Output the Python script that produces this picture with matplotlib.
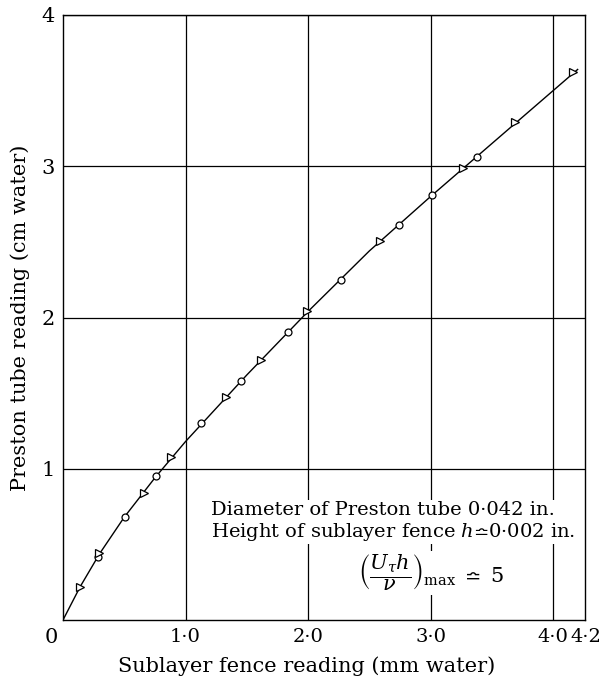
import matplotlib.pyplot as plt
from matplotlib.transforms import ScaledTranslation

plt.rcParams['font.family'] = ['DejaVu Serif', 'STIXGeneral']
plt.rcParams['mathtext.fontset'] = 'dejavuserif'

# data
circ_x = [0.283, 0.503, 0.762, 1.127, 1.45, 1.834, 2.267, 2.746, 3.015, 3.377]
circ_y = [0.415, 0.684, 0.949, 1.30, 1.578, 1.903, 2.245, 2.61, 2.81, 3.06]
tri_x = [0.139, 0.294, 0.661, 0.884, 1.328, 1.614, 1.99, 2.588, 3.268, 3.69, 4.166]
tri_y = [0.22, 0.44, 0.839, 1.077, 1.472, 1.72, 2.04, 2.505, 2.99, 3.29, 3.62]
curve_x = [0, 0.14, 0.3, 0.5, 0.75, 1.0, 1.5, 2.0, 2.5, 3.0, 3.5, 4.0, 4.2]
curve_y = [0, 0.22, 0.44, 0.68, 0.94, 1.18, 1.62, 2.04, 2.44, 2.80, 3.15, 3.50, 3.64]

xticks = [1, 2, 3, 4]
xlabels = ['1·0', '2·0', '3·0', '4·0']
yticks = [1, 2, 3, 4]
ylabels = ['1', '2', '3', '4']

fig = plt.figure(figsize=(6.03, 6.8), dpi=100)
ax = fig.add_axes([63/603, 1 - 620/680, 522/603, 605/680])

ax.plot(curve_x, curve_y, color='black', lw=1.0, zorder=3)
ax.plot(circ_x, circ_y, 'o', ms=5, mfc='white', mec='black', mew=0.9, zorder=4)
ax.plot(tri_x, tri_y, '>', ms=6, mfc='white', mec='black', mew=0.9, zorder=4)

ax.set_xlim(0, 4.26)
ax.set_ylim(0, 4)
ax.set_xticks(xticks)
ax.set_xticklabels(xlabels)
ax.set_xticks([4.2], ['4·2'], minor=True)
ax.set_yticks(yticks)
ax.set_yticklabels(ylabels)
ax.tick_params(which='both', length=0, labelsize=14, pad=6)
ax.tick_params(axis='y', labelsize=15)
ax.grid(True, which='major', color='black', lw=0.9)
for s in ax.spines.values():
    s.set_linewidth(1.0)

# nudge the 4·2 label so it does not run into 4·0
for lab in ax.get_xticklabels(minor=True):
    lab.set_transform(lab.get_transform() + ScaledTranslation(8/100, 0, fig.dpi_scale_trans))

# shared origin label
ax.text(0, 0, '0', transform=ax.transAxes + ScaledTranslation(-12/100, -8/100, fig.dpi_scale_trans),
        ha='center', va='top', fontsize=15)

ax.set_xlabel('Sublayer fence reading (mm water)', fontsize=15, labelpad=6)
ax.xaxis.set_label_coords(0.466, -0.06)
ax.set_ylabel('Preston tube reading (cm water)', fontsize=15, labelpad=8)

box = dict(facecolor='white', edgecolor='none', pad=1)
ax.text(1.21, 0.728, 'Diameter of Preston tube 0·042 in.', fontsize=14, ha='left', va='center', bbox=box, zorder=5)
ax.text(1.21, 0.583, r'Height of sublayer fence $h\!\bumpeq\!$0·002 in.', fontsize=14, ha='left', va='center',
        bbox=box, zorder=5)
ax.text(2.41, 0.31, r'$\left(\dfrac{U_\tau h}{\nu}\right)_{\mathrm{max}}\ \bumpeq\ 5$', fontsize=15,
        ha='left', va='center', bbox=box, zorder=5)

fig.savefig('out.png', dpi=100)
